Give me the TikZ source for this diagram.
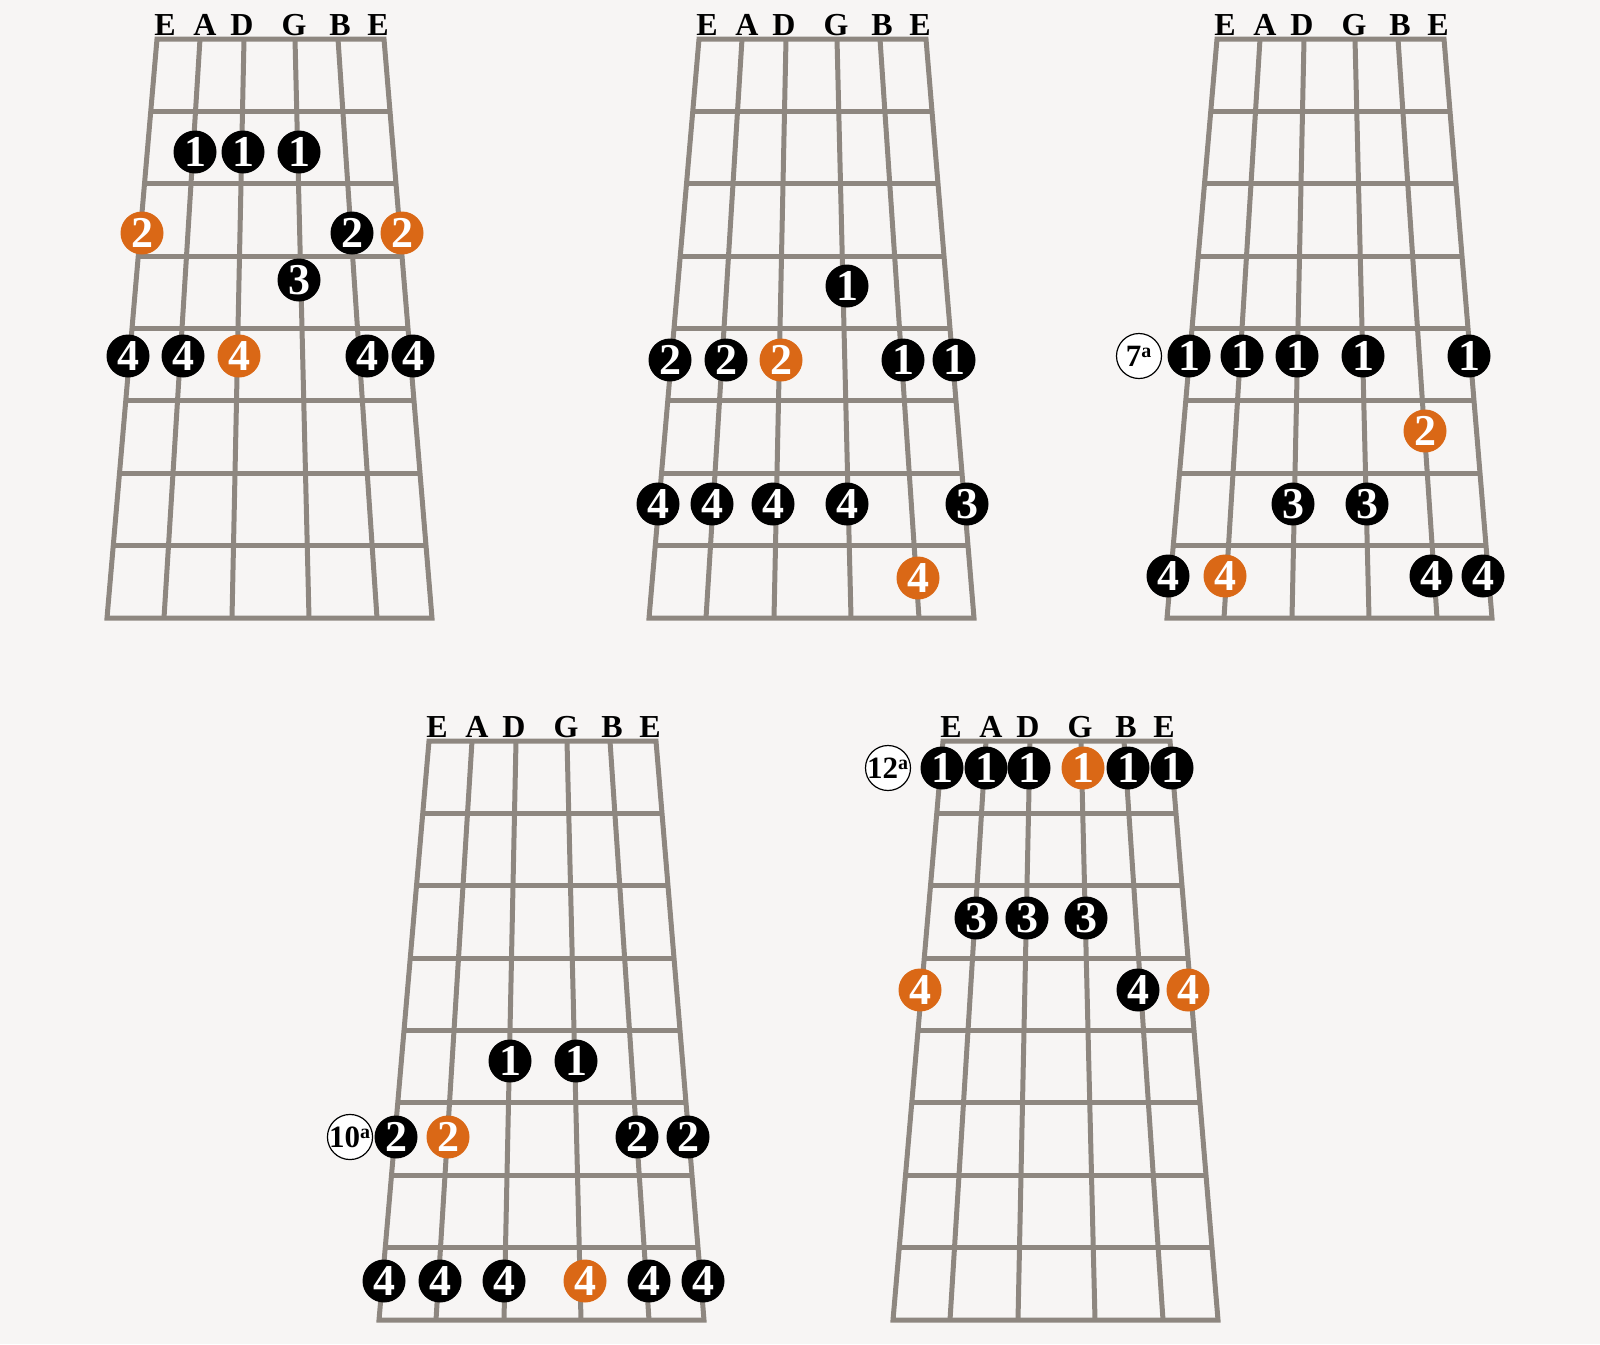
\documentclass[tikz,border=0pt]{standalone}
\usepackage{fontspec}
\setmainfont{Liberation Serif}
\usetikzlibrary{calc}
\definecolor{bgc}{RGB}{247,245,244}
\definecolor{fretc}{RGB}{142,135,128}
\definecolor{orng}{RGB}{218,104,22}
\tikzset{
  fbline/.style={draw=fretc, line width=2.5pt},
  strlbl/.style={anchor=base, inner sep=0pt, font=\fontsize{16}{18}\selectfont\bfseries},
  dotb/.style={circle, fill=black, text=white, minimum size=21.5pt, inner sep=0pt, font=\fontsize{22}{24}\selectfont\bfseries},
  doto/.style={dotb, fill=orng},
  poslbl/.style={circle, draw=black, line width=0.6pt, fill=white, text=black, minimum size=22.5pt, inner sep=0pt, font=\fontsize{15.5}{17}\selectfont\bfseries},
}
\newcommand{\fretboard}[3]{%
  \foreach \i/\t/\b in {1/157/107,2/200/164,3/244/232,4/295/309,5/338/377,6/384/432}{
    \coordinate (#1s\i t) at (\t+#2, 39+#3);
    \coordinate (#1s\i b) at (\b+#2, 618+#3);
  }
  \draw[fbline, line join=miter] (#1s1t) -- (#1s6t) -- (#1s6b) -- (#1s1b) -- cycle;
  \foreach \i in {2,...,5}{ \draw[fbline] (#1s\i t) -- (#1s\i b); }
  \foreach \k in {1,...,7}{ \draw[fbline] ($(#1s1t)!\k/8!(#1s1b)$) -- ($(#1s6t)!\k/8!(#1s6b)$); }
  \foreach \i/\l/\x in {1/E/165,2/A/205,3/D/242,4/G/294,5/B/340,6/E/378}{
    \node[strlbl] (#1l\i) at (\x+#2, 35+#3) {\l};
  }
}
\newcommand{\dg}[1]{\raisebox{-1.2pt}{#1}}
\newcommand{\pl}[1]{\hspace{-0.5pt}#1\raisebox{4.5pt}{\fontsize{10}{10}\selectfont a}}
\begin{document}
\begin{tikzpicture}[x=0.5pt, y=-0.5pt]
\fill[bgc] (0,0) rectangle (1600,1344);
\useasboundingbox (0,0) rectangle (1600,1344);
\fretboard{a}{0}{0}
\fretboard{b}{542}{0}
\fretboard{c}{1060}{0}
\fretboard{d}{272}{702}
\fretboard{e}{786}{702}
% diagram 1
\node[dotb] (a11) at (195,152) {\dg{1}};
\node[dotb] (a12) at (243,152) {\dg{1}};
\node[dotb] (a13) at (299,152) {\dg{1}};
\node[doto] (a21) at (142,233) {\dg{2}};
\node[dotb] (a22) at (352,233) {\dg{2}};
\node[doto] (a23) at (402,233) {\dg{2}};
\node[dotb] (a31) at (299,280) {\dg{3}};
\node[dotb] (a41) at (128,356) {\dg{4}};
\node[dotb] (a42) at (183,356) {\dg{4}};
\node[doto] (a43) at (239,356) {\dg{4}};
\node[dotb] (a44) at (367,356) {\dg{4}};
\node[dotb] (a45) at (413,356) {\dg{4}};
% diagram 2
\node[dotb] (b11) at (847,286) {\dg{1}};
\node[dotb] (b21) at (670,360) {\dg{2}};
\node[dotb] (b22) at (726,360) {\dg{2}};
\node[doto] (b23) at (781,360) {\dg{2}};
\node[dotb] (b12) at (903,360) {\dg{1}};
\node[dotb] (b13) at (954,360) {\dg{1}};
\node[dotb] (b41) at (658,504) {\dg{4}};
\node[dotb] (b42) at (712,504) {\dg{4}};
\node[dotb] (b43) at (773,504) {\dg{4}};
\node[dotb] (b44) at (847,504) {\dg{4}};
\node[dotb] (b31) at (967,504) {\dg{3}};
\node[doto] (b45) at (918,578) {\dg{4}};
% diagram 3
\node[poslbl] (cpos) at (1139,356) {\pl{7}};
\node[dotb] (c11) at (1189,356) {\dg{1}};
\node[dotb] (c12) at (1242,356) {\dg{1}};
\node[dotb] (c13) at (1297,356) {\dg{1}};
\node[dotb] (c14) at (1363,356) {\dg{1}};
\node[dotb] (c15) at (1469,356) {\dg{1}};
\node[doto] (c21) at (1425,431) {\dg{2}};
\node[dotb] (c31) at (1293,504) {\dg{3}};
\node[dotb] (c32) at (1367,504) {\dg{3}};
\node[dotb] (c41) at (1168,576) {\dg{4}};
\node[doto] (c42) at (1225,576) {\dg{4}};
\node[dotb] (c43) at (1431,576) {\dg{4}};
\node[dotb] (c44) at (1483,576) {\dg{4}};
% diagram 4
\node[dotb] (d11) at (510,1061) {\dg{1}};
\node[dotb] (d12) at (576,1061) {\dg{1}};
\node[poslbl] (dpos) at (350,1137) {\pl{10}};
\node[dotb] (d21) at (396,1137) {\dg{2}};
\node[doto] (d22) at (448,1137) {\dg{2}};
\node[dotb] (d23) at (637,1137) {\dg{2}};
\node[dotb] (d24) at (688,1137) {\dg{2}};
\node[dotb] (d41) at (384,1281) {\dg{4}};
\node[dotb] (d42) at (440,1281) {\dg{4}};
\node[dotb] (d43) at (504,1281) {\dg{4}};
\node[doto] (d44) at (585,1281) {\dg{4}};
\node[dotb] (d45) at (649,1281) {\dg{4}};
\node[dotb] (d46) at (703,1281) {\dg{4}};
% diagram 5
\node[poslbl] (epos) at (888,768) {\pl{12}};
\node[dotb] (e11) at (942,768) {\dg{1}};
\node[dotb] (e12) at (986,768) {\dg{1}};
\node[dotb] (e13) at (1029,768) {\dg{1}};
\node[doto] (e14) at (1083,768) {\dg{1}};
\node[dotb] (e15) at (1128,768) {\dg{1}};
\node[dotb] (e16) at (1172,768) {\dg{1}};
\node[dotb] (e31) at (976,918) {\dg{3}};
\node[dotb] (e32) at (1027,918) {\dg{3}};
\node[dotb] (e33) at (1086,918) {\dg{3}};
\node[doto] (e41) at (920,990) {\dg{4}};
\node[dotb] (e42) at (1138,990) {\dg{4}};
\node[doto] (e43) at (1188,990) {\dg{4}};
\end{tikzpicture}
\end{document}
